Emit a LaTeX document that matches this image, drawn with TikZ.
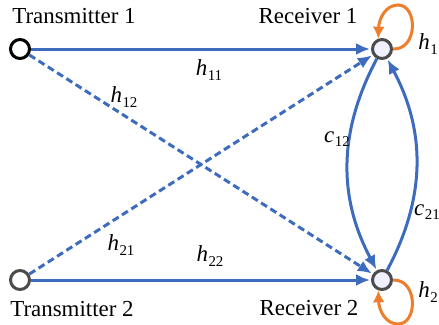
\documentclass[tikz,border=0pt]{standalone}
\usepackage{fontspec}
\setmainfont{Liberation Serif}
\usetikzlibrary{arrows.meta}
\definecolor{lblue}{HTML}{3D6CBE}
\definecolor{lorange}{HTML}{EE7D2C}
\newcommand{\varlab}[2]{\textit{#1}\kern0.5bp\raisebox{-0.45ex}{\fontsize{15}{15}\selectfont #2}}
\begin{document}
\begin{tikzpicture}[x=1bp,y=-1bp,
  tx/.style={circle,draw=#1,line width=3bp,fill=white,minimum size=19bp,inner sep=0pt},
  rx/.style={circle,draw=black!70,line width=3bp,fill=blue!6,minimum size=19bp,inner sep=0pt},
  link/.style={lblue,line width=3bp,-{Latex[length=14bp,width=12bp]},shorten >=1bp},
  dlink/.style={link,dash pattern=on 7bp off 4bp},
  loopa/.style={lorange,line width=3bp,-{Latex[length=12bp,width=12bp]}},
  lab/.style={font=\fontsize{23}{26}\selectfont,inner sep=0pt},
  ml/.style={font=\fontsize{23}{26}\selectfont,inner sep=0pt}]
\useasboundingbox (0,0) rectangle (439,324);
\node[tx=black] (t1) at (20,49) {};
\node[tx=black!70] (t2) at (20,280) {};
\node[rx] (r1) at (382,49) {};
\node[rx] (r2) at (382,280) {};
\node[lab] (lt1) at (74,16) {Transmitter 1};
\node[lab] (lr1) at (308,16) {Receiver 1};
\node[lab] (lt2) at (72,309) {Transmitter 2};
\node[lab] (lr2) at (309,308) {Receiver 2};
\draw[dlink] (t1) -- (r2);
\draw[dlink] (t2) -- (r1);
\draw[link] (t1) -- (r1);
\draw[link] (t2) -- (r2);
\draw[link] (r1) to[bend right=28] (r2);
\draw[link] (r2) to[bend right=28] (r1);
\draw[loopa] (r1.east) .. controls (418,50) and (418,5) .. (398,5) .. controls (386,5) and (379,18) .. (r1.110);
\draw[loopa] (r2.east) .. controls (418,279) and (418,324) .. (398,324) .. controls (386,324) and (379,311) .. (r2.250);
\node[ml] (h11) at (209,70) {\varlab{h}{11}};
\node[ml] (h12) at (124,97) {\varlab{h}{12}};
\node[ml] (h21) at (121,245) {\varlab{h}{21}};
\node[ml] (h22) at (210,256) {\varlab{h}{22}};
\node[ml] (c12) at (337,139) {\varlab{c}{12}};
\node[ml] (c21) at (427,212) {\varlab{c}{21}};
\node[ml] (h1) at (428,44) {\varlab{h}{1}};
\node[ml] (h2) at (428,292) {\varlab{h}{2}};
\end{tikzpicture}
\end{document}
